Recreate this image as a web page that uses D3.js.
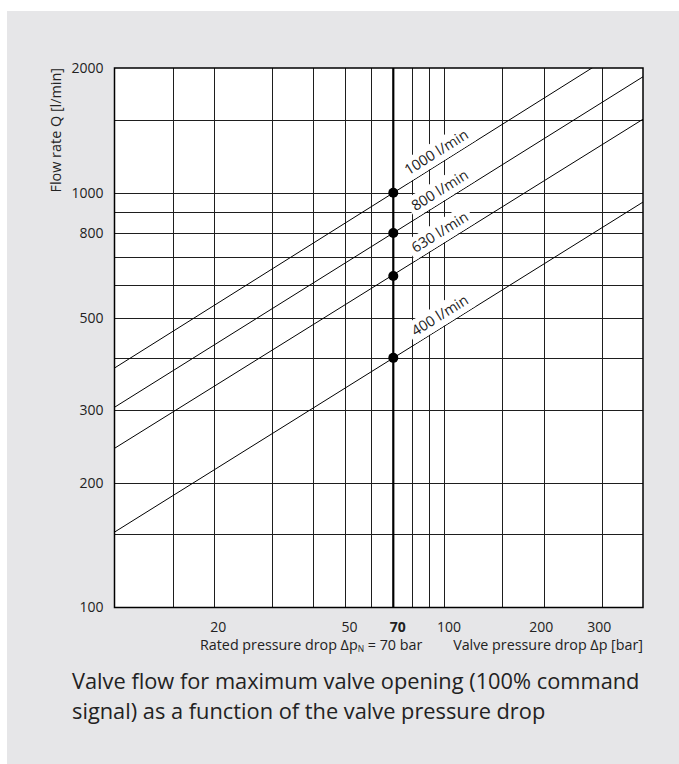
<!DOCTYPE html>
<html>
<head>
<meta charset="utf-8">
<script src="https://cdn.jsdelivr.net/npm/d3@7/dist/d3.min.js"></script>
<style>
  body { margin: 0; background: #fff; }
  svg text { font-family: "Open Sans", sans-serif; fill: #222; }
</style>
</head>
<body>
<div id="chart"></div>
<script>
// rated flows (l/min) at the 70 bar rated pressure drop
var ratedFlows = [1000, 800, 630, 400];
var flowLabels = ["1000 l/min", "800 l/min", "630 l/min", "400 l/min"];
// flow at the left (10 bar) and right (400 bar) edges
var flowAtStart = [378, 304, 242, 152];
var flowAtEnd = [2390, 1905, 1505, 950];
var pressureStart = 10;
var pressureEnd = 400;
var ratedPressure = 70;

var xGrid = [15, 20, 30, 40, 50, 60, 80, 90, 100, 150, 200, 300];
var yGrid = [150, 200, 300, 400, 500, 600, 700, 800, 900, 1000, 1500];
var xTicks = [20, 50, 70, 100, 200, 300];
var yTicks = [100, 200, 300, 500, 800, 1000, 2000];

var svgWidth = 679;
var svgHeight = 764;

var svg = d3.select("#chart")
  .append("svg")
  .attr("width", svgWidth)
  .attr("height", svgHeight);

svg.append("rect")
  .attr("x", 7)
  .attr("y", 11)
  .attr("width", svgWidth - 7)
  .attr("height", svgHeight - 11)
  .attr("fill", "#e6e6e8");

var x = d3.scaleLog().domain([10, 400]).range([114.5, 643]);
var y = d3.scaleLog().domain([100, 2000]).range([607.5, 68]);

var plot = svg.append("g");

plot.append("rect")
  .attr("x", x(10))
  .attr("y", y(2000))
  .attr("width", x(400) - x(10))
  .attr("height", y(100) - y(2000))
  .attr("fill", "#fff");

svg.append("clipPath")
  .attr("id", "plotClip")
  .append("rect")
  .attr("x", x(10))
  .attr("y", y(2000))
  .attr("width", x(400) - x(10))
  .attr("height", y(100) - y(2000));

// grid
plot.selectAll(".vgrid")
  .data(xGrid)
  .enter()
  .append("line")
  .attr("x1", d => Math.round(x(d)) + 0.5)
  .attr("x2", d => Math.round(x(d)) + 0.5)
  .attr("y1", y(2000))
  .attr("y2", y(100))
  .attr("stroke", "#1e1e1e")
  .attr("stroke-width", 1);

plot.selectAll(".hgrid")
  .data(yGrid)
  .enter()
  .append("line")
  .attr("x1", x(10))
  .attr("x2", x(400))
  .attr("y1", d => Math.round(y(d)) + 0.5)
  .attr("y2", d => Math.round(y(d)) + 0.5)
  .attr("stroke", "#1e1e1e")
  .attr("stroke-width", 1);

// flow lines
var lines = ratedFlows.map(function(q, i) {
  return {
    label: flowLabels[i],
    rated: q,
    p0: [pressureStart, flowAtStart[i]],
    p1: [pressureEnd, flowAtEnd[i]]
  };
});

var lineGroup = plot.append("g").attr("clip-path", "url(#plotClip)");

lineGroup.selectAll("line")
  .data(lines)
  .enter()
  .append("line")
  .attr("x1", d => x(d.p0[0]))
  .attr("y1", d => y(d.p0[1]))
  .attr("x2", d => x(d.p1[0]))
  .attr("y2", d => y(d.p1[1]))
  .attr("stroke", "#000")
  .attr("stroke-width", 1);

// line labels with white band behind them
var labelPressure = 122;
var labelGroup = plot.selectAll(".flowLabel")
  .data(lines)
  .enter()
  .append("g")
  .attr("transform", function(d) {
    var t = Math.log(labelPressure / d.p0[0]) / Math.log(d.p1[0] / d.p0[0]);
    var q = Math.exp(Math.log(d.p0[1]) + t * Math.log(d.p1[1] / d.p0[1]));
    var angle = Math.atan2(y(d.p1[1]) - y(d.p0[1]), x(d.p1[0]) - x(d.p0[0])) * 180 / Math.PI;
    return `translate(${x(labelPressure)}, ${y(q)}) rotate(${angle})`;
  });

labelGroup.append("rect")
  .attr("class", "band")
  .attr("fill", "#fff");

labelGroup.append("text")
  .attr("x", 0)
  .attr("y", -6.5)
  .attr("text-anchor", "end")
  .attr("font-size", "14.5px")
  .text(d => d.label);

labelGroup.each(function() {
  var g = d3.select(this);
  var w = g.select("text").node().getComputedTextLength();
  g.select("rect")
    .attr("x", -w - 4)
    .attr("y", -22)
    .attr("width", w + 8)
    .attr("height", 21.5);
});

// rated pressure line
plot.append("line")
  .attr("x1", x(ratedPressure))
  .attr("x2", x(ratedPressure))
  .attr("y1", y(2000))
  .attr("y2", y(100))
  .attr("stroke", "#000")
  .attr("stroke-width", 2.2);

plot.selectAll(".dot")
  .data(lines)
  .enter()
  .append("circle")
  .attr("cx", x(ratedPressure))
  .attr("cy", d => y(d.rated))
  .attr("r", 5)
  .attr("fill", "#000");

// frame
plot.append("rect")
  .attr("x", x(10))
  .attr("y", y(2000))
  .attr("width", x(400) - x(10))
  .attr("height", y(100) - y(2000))
  .attr("fill", "none")
  .attr("stroke", "#000")
  .attr("stroke-width", 1.5);

// axes
var leftAxis = d3.axisLeft(y)
  .tickValues(yTicks)
  .tickSize(0)
  .tickPadding(11)
  .tickFormat(d3.format("d"));

var yAxisGroup = svg.append("g")
  .attr("transform", `translate(${x(10)}, 0)`)
  .call(leftAxis);
yAxisGroup.select(".domain").remove();
yAxisGroup.selectAll("text")
  .attr("font-family", "Open Sans")
  .attr("font-size", "14px")
  .attr("fill", "#222");

var bottomAxis = d3.axisBottom(x)
  .tickValues(xTicks)
  .tickSize(0)
  .tickPadding(15)
  .tickFormat(d3.format("d"));

var xAxisGroup = svg.append("g")
  .attr("transform", `translate(0, ${y(100)})`)
  .call(bottomAxis);
xAxisGroup.select(".domain").remove();
xAxisGroup.selectAll("text")
  .attr("font-family", "Open Sans")
  .attr("font-size", "14px")
  .attr("fill", "#222")
  .attr("dx", d => d < 150 ? 4 : -3)
  .attr("font-weight", d => d === ratedPressure ? "bold" : "normal");

// axis titles
var ratedText = svg.append("text")
  .attr("x", 200)
  .attr("y", 650)
  .attr("font-size", "14.3px");
ratedText.append("tspan").text("Rated pressure drop \u0394p");
ratedText.append("tspan").attr("font-size", "8.5px").attr("dy", 2).text("N");
ratedText.append("tspan").attr("dy", -2).text(" = 70 bar");

svg.append("text")
  .attr("x", 643)
  .attr("y", 650)
  .attr("text-anchor", "end")
  .attr("font-size", "14.3px")
  .text("Valve pressure drop \u0394p [bar]");

svg.append("text")
  .attr("transform", "rotate(-90)")
  .attr("x", -68)
  .attr("y", 61)
  .attr("text-anchor", "end")
  .attr("font-size", "14.4px")
  .text("Flow rate Q [l/min]");

// caption
svg.append("text")
  .attr("x", 72)
  .attr("y", 689)
  .attr("font-size", "21.8px")
  .text("Valve flow for maximum valve opening (100% command");

svg.append("text")
  .attr("x", 72)
  .attr("y", 719)
  .attr("font-size", "21.8px")
  .text("signal) as a function of the valve pressure drop");
</script>
</body>
</html>
